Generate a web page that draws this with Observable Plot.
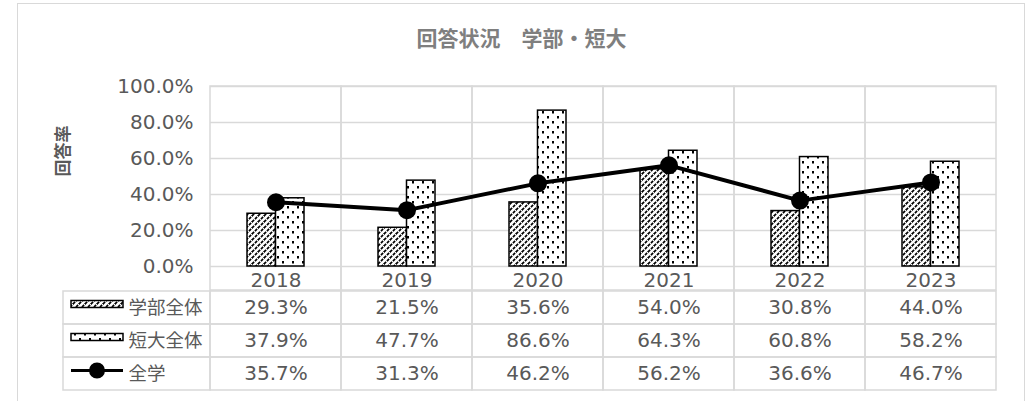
<!DOCTYPE html>
<html>
<head>
<meta charset="utf-8">
<script src="https://cdn.jsdelivr.net/npm/d3@7"></script>
<script src="https://cdn.jsdelivr.net/npm/@observablehq/plot@0.6"></script>
<style>
  html, body { margin: 0; padding: 0; background: #fff; }
  #wrap { position: relative; width: 1032px; height: 401px; overflow: hidden; background: #fff; }
  #box { position: absolute; left: 17px; top: 3px; width: 1008px; height: 420px; border: 1px solid #d9d9d9; box-sizing: border-box; }
  #title { position: absolute; left: 17px; width: 1009px; top: 27px; text-align: center; white-space: pre;
           font-family: "Noto Sans CJK JP", sans-serif; font-weight: bold; font-size: 21px; line-height: 21px; color: #7f7f7f; }
  .layer { position: absolute; left: 0; top: 0; }
</style>
</head>
<body>
<div id="wrap">
  <div id="box"></div>
  <svg width="0" height="0" style="position:absolute">
    <defs>
      <pattern id="hatch" patternUnits="userSpaceOnUse" width="6" height="6">
        <rect width="6" height="6" fill="#fff"/>
        <path d="M-1,1 L1,-1 M0,6 L6,0 M5,7 L7,5" stroke="#000" stroke-width="1.7" stroke-dasharray="3,1.2"/>
      </pattern>
      <pattern id="dots" patternUnits="userSpaceOnUse" width="10" height="10">
        <rect width="10" height="10" fill="#fff"/>
        <rect x="2" y="1" width="2" height="2.5" fill="#000"/>
        <rect x="7" y="6" width="2" height="2.5" fill="#000"/>
      </pattern>
    </defs>
  </svg>
  <div id="title">回答状況　学部・短大</div>
  <div id="chart" class="layer"></div>
  <div id="table" class="layer"></div>
</div>
<script>
// ---- data ----
const years = ["2018", "2019", "2020", "2021", "2022", "2023"];
const seriesNames = ["学部全体", "短大全体", "全学"];
const faculty = [0.293, 0.215, 0.356, 0.540, 0.308, 0.440];      // 学部全体
const juniorCollege = [0.379, 0.477, 0.866, 0.643, 0.608, 0.582]; // 短大全体
const overall = [0.357, 0.313, 0.462, 0.562, 0.366, 0.467];       // 全学
const yTicks = [0, 0.2, 0.4, 0.6, 0.8, 1.0];
const yAxisTitle = "回答率";

// ---- derived tables ----
const facultyData = years.map((year, i) => ({year, value: faculty[i]}));
const juniorData = years.map((year, i) => ({year, value: juniorCollege[i]}));
const overallData = years.map((year, i) => ({year, value: overall[i]}));
const tableCells = [
  ...facultyData.map(d => ({...d, series: seriesNames[0]})),
  ...juniorData.map(d => ({...d, series: seriesNames[1]})),
  ...overallData.map(d => ({...d, series: seriesNames[2]}))
];
const pct = d3.format(".1%");

const GRID = "#d9d9d9";
const TEXT = "#595959";
const FONT = "'DejaVu Sans', 'Noto Sans CJK JP', sans-serif";

// ---- chart ----
const chart = Plot.plot({
  width: 1032,
  height: 401,
  marginLeft: 210,
  marginRight: 36,
  marginTop: 86,
  marginBottom: 135,
  style: {fontFamily: FONT, color: TEXT, background: "transparent", overflow: "visible"},
  x: {domain: years, padding: 0},
  y: {domain: [0, 1]},
  marks: [
    Plot.gridY(yTicks, {stroke: GRID, strokeOpacity: 1, strokeWidth: 1.5}),
    Plot.cell(years, {x: d => d, fill: "none", stroke: GRID, strokeWidth: 1.5, insetBottom: -24}),
    Plot.axisY(yTicks, {tickFormat: pct, tickSize: 0, tickPadding: 17, fontSize: 20, label: null}),
    Plot.axisX({tickSize: 0, tickPadding: 6, fontSize: 20, label: null}),
    Plot.barY(facultyData, {x: "year", y: "value", fill: "url(#hatch)", stroke: "#000", strokeWidth: 1.5, insetLeft: 37, insetRight: 65.5}),
    Plot.barY(juniorData, {x: "year", y: "value", fill: "url(#dots)", stroke: "#000", strokeWidth: 1.5, insetLeft: 65.5, insetRight: 37}),
    Plot.line(overallData, {x: "year", y: "value", stroke: "#000", strokeWidth: 4}),
    Plot.dot(overallData, {x: "year", y: "value", r: 9, fill: "#000"}),
    Plot.text([yAxisTitle], {frameAnchor: "left", dx: -147, rotate: -90, fontWeight: "bold", fontSize: 17, fill: TEXT,
      fontFamily: "'Noto Sans CJK JP', sans-serif"})
  ]
});
document.getElementById("chart").append(chart);

// ---- data table ----
const rectSwatch = {draw(ctx) { ctx.rect(-26, -3.5, 52, 7); }};
const lineSwatch = {draw(ctx) { ctx.moveTo(-26, 0); ctx.lineTo(26, 0); ctx.moveTo(6.5, 0); ctx.arc(0, 0, 6.5, 0, 2 * Math.PI); }};

const table = Plot.plot({
  width: 1032,
  height: 401,
  marginLeft: 210,
  marginRight: 36,
  marginTop: 290,
  marginBottom: 11,
  style: {fontFamily: FONT, color: TEXT, background: "transparent", overflow: "visible"},
  x: {domain: years, padding: 0, axis: null},
  y: {domain: seriesNames, padding: 0, axis: null},
  marks: [
    Plot.cell(tableCells, {x: "year", y: "series", fill: "none", stroke: GRID, strokeWidth: 1.5}),
    Plot.cell(seriesNames, {y: d => d, fill: "none", stroke: GRID, strokeWidth: 1.5, insetLeft: -147, insetRight: 786}),
    Plot.text(tableCells, {x: "year", y: "series", text: d => pct(d.value), fontSize: 20, fill: TEXT}),
    Plot.text(seriesNames, {y: d => d, text: d => d, frameAnchor: "left", textAnchor: "start", dx: -82, fontSize: 18.5, fill: TEXT,
      fontFamily: "'Noto Sans CJK JP', sans-serif"}),
    Plot.dot([seriesNames[0]], {y: d => d, frameAnchor: "left", dx: -113.5, dy: -4, symbol: rectSwatch, fill: "url(#hatch)", stroke: "#000", strokeWidth: 1.5}),
    Plot.dot([seriesNames[1]], {y: d => d, frameAnchor: "left", dx: -113.5, dy: -4, symbol: rectSwatch, fill: "url(#dots)", stroke: "#000", strokeWidth: 1.5}),
    Plot.dot([seriesNames[2]], {y: d => d, frameAnchor: "left", dx: -113.5, dy: -3.5, symbol: lineSwatch, fill: "#000", stroke: "#000", strokeWidth: 3})
  ]
});
document.getElementById("table").append(table);
</script>
</body>
</html>
